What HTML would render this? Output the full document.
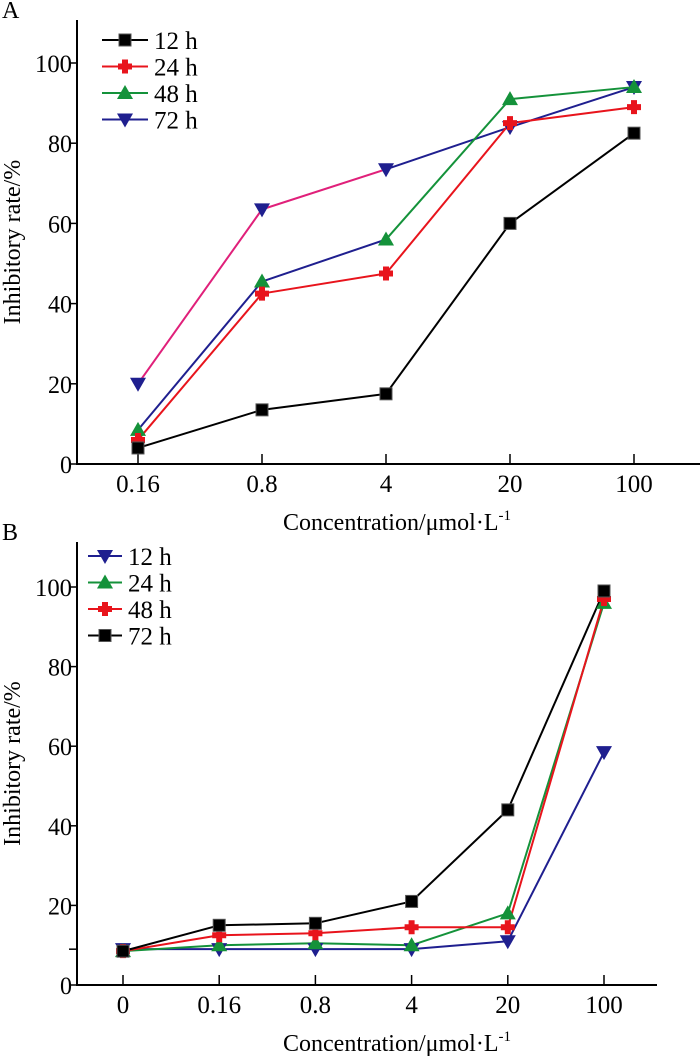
<!DOCTYPE html>
<html><head><meta charset="utf-8">
<style>
html,body{margin:0;padding:0;background:#fff;}
svg{display:block;font-family:"Liberation Serif",serif;}
</style></head>
<body>
<svg id="chart" width="700" height="1059" viewBox="0 0 700 1059"></svg>
<script>
const catsA = ["0.16","0.8","4","20","100"];
const a12 = [4, 13.5, 17.5, 60, 82.5];
const a24 = [6, 42.5, 47.5, 85, 89];
const a48 = [8.5, 45.5, 56, 91, 94];
const a72 = [20, 63.5, 73.5, 84, 94];
const catsB = ["0","0.16","0.8","4","20","100"];
const b12 = [9, 9, 9, 9, 11, 58.5];
const b24 = [8.5, 10, 10.5, 10, 18, 96];
const b48 = [8.5, 12.5, 13, 14.5, 14.5, 97];
const b72 = [8.5, 15, 15.5, 21, 44, 99];
const yTicks = [0, 20, 40, 60, 80, 100];
const labelsA = ["12 h","24 h","48 h","72 h"];
const labelsB = ["12 h","24 h","48 h","72 h"];

const NS = "http://www.w3.org/2000/svg";
const svg = document.getElementById("chart");
function mk(tag, attrs, parent){ const e=document.createElementNS(NS,tag); for(const k in attrs) e.setAttribute(k,attrs[k]); (parent||svg).appendChild(e); return e; }

function marker(g, type, x, y, color){
  let m;
  if(type==="sq") m = mk("rect",{x:x-6,y:y-6,width:12,height:12,fill:"#000",stroke:"#555","stroke-width":1},g);
  else if(type==="cross") m = mk("path",{d:`M${x-3} ${y-7}h6v4h4v6h-4v4h-6v-4h-4v-6h4z`,fill:color},g);
  else if(type==="up") m = mk("path",{d:`M${x} ${y-8}L${x+8} ${y+6}L${x-8} ${y+6}Z`,fill:color},g);
  else m = mk("path",{d:`M${x} ${y+8}L${x+8} ${y-6}L${x-8} ${y-6}Z`,fill:color},g);
  
  
  return m;
}

function panel(cfg){
  const g = mk("g",{});
  
  
  const xs = i => cfg.x0 + i*cfg.dx;
  const ys = v => cfg.y0 - v*cfg.py;
  const ax = mk("path",{d:`M${cfg.ax} ${cfg.top}V${cfg.y0}H${cfg.xEnd}`,stroke:"#000","stroke-width":2,fill:"none"},g);
  
  
  yTicks.forEach(v=>{
    mk("line",{x1:cfg.ax-8,x2:cfg.ax,y1:ys(v),y2:ys(v),stroke:"#000","stroke-width":1.5},g);
    const t = mk("text",{x:cfg.ax-5,y:ys(v)+9,"text-anchor":"end","font-size":25,textLength:v>=100?37:(v>0?24:12),lengthAdjust:"spacingAndGlyphs"},g);
    t.textContent = v;  
  });
  (cfg.extraTicks||[]).forEach(v=>mk("line",{x1:cfg.ax-8,x2:cfg.ax,y1:ys(v),y2:ys(v),stroke:"#000","stroke-width":1.5},g));
  cfg.cats.forEach((c,i)=>{
    mk("line",{x1:xs(i),x2:xs(i),y1:cfg.y0,y2:cfg.y0-10,stroke:"#000","stroke-width":1.5},g);
    const t = mk("text",{x:xs(i),y:cfg.y0+28,"text-anchor":"middle","font-size":25},g);
    t.textContent = c;  
  });
  const xt = mk("text",{x:cfg.ax+320,y:cfg.y0+66,"text-anchor":"middle","font-size":24},g);
  xt.innerHTML = 'Concentration/μmol·L<tspan dy="-10" font-size="15">-1</tspan>';
   
  const ymid = (cfg.top+cfg.y0)/2;
  const yt = mk("text",{x:20,y:ymid,"text-anchor":"middle","font-size":24,transform:`rotate(-90 20 ${ymid})`},g);
  yt.textContent = "Inhibitory rate/%";  
  const pl = mk("text",{x:2,y:cfg.top-2,"font-size":24},g);
  pl.textContent = cfg.letter;  
  cfg.series.forEach(s=>{
    for(let i=0;i<s.data.length-1;i++){
      const col = (s.segColors && s.segColors[i]) || s.color;
      const l = mk("line",{x1:xs(i),y1:ys(s.data[i]),x2:xs(i+1),y2:ys(s.data[i+1]),stroke:col,"stroke-width":2},g);
       
    }
  });
  cfg.series.forEach(s=>{ s.data.forEach((v,i)=>marker(g,s.m,xs(i),ys(v),s.color)); });
  cfg.legend.forEach((s,i)=>{
    const y = cfg.legY + i*26.5;
    const lg = mk("g",{},g);
     
    mk("line",{x1:cfg.legX,x2:cfg.legX+cfg.legW,y1:y,y2:y,stroke:s.color,"stroke-width":2},lg);
    marker(lg,s.m,cfg.legX+cfg.legW/2,y,s.color);
    const t = mk("text",{x:cfg.legX+cfg.legW+6,y:y+9,"font-size":25},lg);
    t.textContent = s.label;
  });
}

const sA = [
  {data:a72,color:"#1f1f8f",m:"down",segColors:["#e0207a","#e0207a"],label:labelsA[3]},
  {data:a48,color:"#14923a",m:"up",segColors:["#1f1f8f","#1f1f8f"],label:labelsA[2]},
  {data:a24,color:"#e8141c",m:"cross",label:labelsA[1]},
  {data:a12,color:"#000",m:"sq",label:labelsA[0]}
];
panel({name:"panel-a",letter:"A",cats:catsA,x0:138,dx:124,y0:464,py:4.01,ax:77,top:20,xEnd:700,series:sA,
  legend:[sA[3],sA[2],sA[1],sA[0]],legX:102,legW:46,legY:40});

const sB = [
  {data:b12,color:"#1f1f8f",m:"down",label:labelsB[0]},
  {data:b24,color:"#14923a",m:"up",label:labelsB[1]},
  {data:b48,color:"#e8141c",m:"cross",label:labelsB[2]},
  {data:b72,color:"#000",m:"sq",label:labelsB[3]}
];
panel({name:"panel-b",letter:"B",cats:catsB,x0:123,dx:96.2,y0:985,py:3.98,ax:77,top:542,xEnd:657,series:sB,extraTicks:[9],
  legend:sB,legX:88,legW:34,legY:556});
</script>
</body></html>
